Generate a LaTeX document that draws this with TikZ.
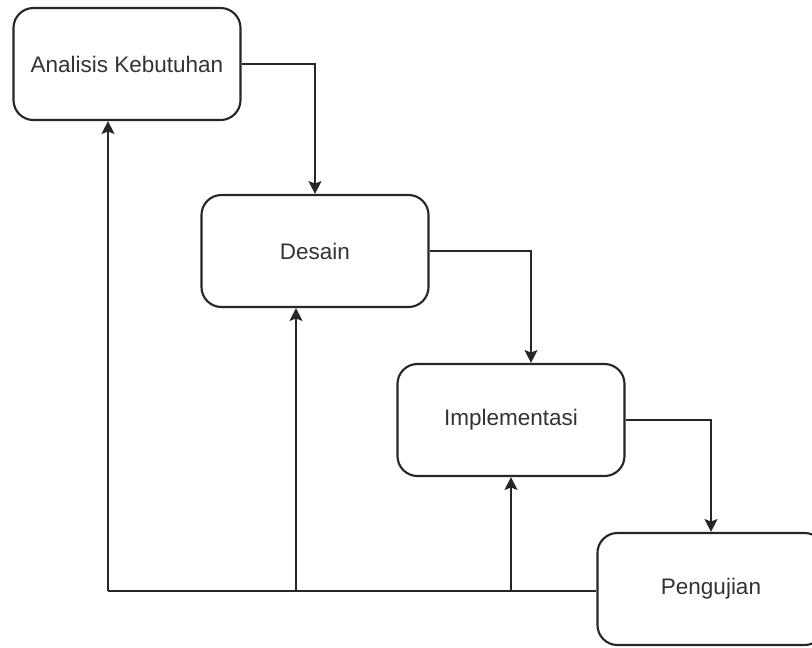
\documentclass[tikz,border=0pt]{standalone}
\usepackage{fontspec}
\setmainfont{Liberation Sans}
\usepackage{tikz}
\usetikzlibrary{arrows.meta, positioning}

\begin{document}
\begin{tikzpicture}[
    ->, >={Stealth[length=3.2mm, width=3.2mm, inset=0.6mm]},
    x=0.025cm, y=-0.025cm,
    phase/.style={rectangle, draw, rounded corners=0.5cm, fill=white,
        minimum width=5.675cm, minimum height=2.8cm, text=black!80,
        font=\fontsize{16}{19}\selectfont},
    line width=1.5pt, color=black!85
]
\useasboundingbox (0,0) rectangle (812,647);
\clip (0,0) rectangle (812,647);

\node[phase] (ana) at (127,64) {Analisis Kebutuhan};
\node[phase] (des) at (315,251) {Desain};
\node[phase] (imp) at (511,420) {Implementasi};
\node[phase] (peng) at (711,589) {Pengujian};

% turun ke fase berikutnya
\draw (ana.east) -| (des.north);
\draw (des.east) -| ([xshift=0.5cm]imp.north);
\draw (imp.east) -| (peng.north);

% umpan balik dari pengujian
\coordinate (fb) at (108,591);
\coordinate (fbdes) at (296,591);
\draw[-] (peng.west |- fb) -- (fb);
\draw (fb) -- (fb |- ana.south);
\draw (fbdes) -- (fbdes |- des.south);
\draw (fb -| imp.south) -- (imp.south);

\end{tikzpicture}
\end{document}
